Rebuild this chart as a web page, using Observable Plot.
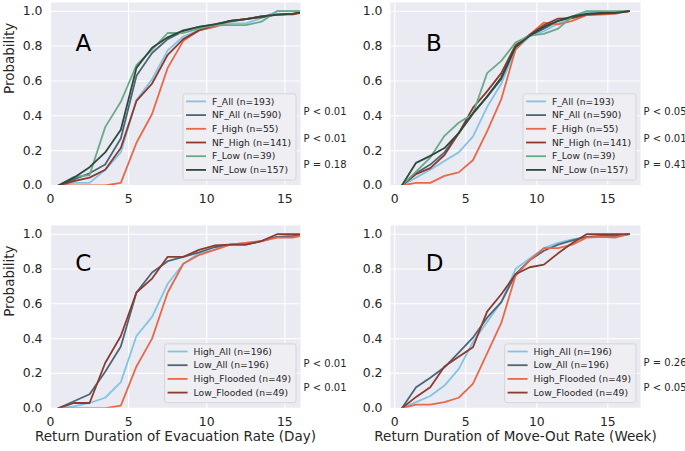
<!DOCTYPE html>
<html><head><meta charset="utf-8">
<script src="https://cdn.jsdelivr.net/npm/d3@7"></script>
<script src="https://cdn.jsdelivr.net/npm/@observablehq/plot@0.6"></script>
<style>
body{margin:0;background:#fff;}
#fig{position:relative;width:685px;height:451px;overflow:hidden;font-family:"DejaVu Sans",sans-serif;}
#fig svg{position:absolute;overflow:visible;max-width:none;}
</style></head><body><div id="fig"></div>
<script>
// ---- data ----
const xs = [0.5,1.5,2.5,3.5,4.5,5.5,6.5,7.5,8.5,9.5,10.5,11.5,12.5,13.5,14.5,15.5,16.5];
const xTicks = [0,5,10,15];
const yTicks = [0,0.2,0.4,0.6,0.8,1.0];

const labelsAB = ["F_All","NF_All","F_High","NF_High","F_Low","NF_Low"];
const nAB = [193,590,55,141,39,157];
const labelsCD = ["High_All","Low_All","High_Flooded","Low_Flooded"];
const nCD = [196,196,49,49];

// Panel A: evacuation rate (day)
const A_F_All   = [0,0.015,0.015,0.09,0.19,0.49,0.61,0.775,0.855,0.89,0.91,0.93,0.93,0.96,1.0,1.0,1.0];
const A_NF_All  = [0,0.035,0.07,0.12,0.27,0.63,0.76,0.84,0.885,0.91,0.925,0.94,0.955,0.97,0.98,0.985,1.0];
const A_F_High  = [0,0,0,0,0.015,0.245,0.41,0.675,0.83,0.89,0.91,0.945,0.955,0.97,0.98,0.98,1.0];
const A_NF_High = [0,0.025,0.045,0.09,0.215,0.485,0.585,0.75,0.84,0.89,0.92,0.945,0.955,0.965,0.98,0.985,1.0];
const A_F_Low   = [0,0.05,0.06,0.335,0.48,0.69,0.78,0.875,0.875,0.9,0.92,0.92,0.92,0.94,1.0,1.0,1.0];
const A_NF_Low  = [0,0.045,0.105,0.19,0.32,0.675,0.79,0.85,0.89,0.91,0.925,0.945,0.955,0.97,0.98,0.985,1.0];

// Panel B: move-out rate (week)
const B_F_All   = [0,0.045,0.09,0.14,0.19,0.28,0.45,0.585,0.78,0.855,0.885,0.93,0.96,0.99,0.99,0.99,1.0];
const B_NF_All  = [0,0.07,0.12,0.19,0.30,0.41,0.51,0.61,0.795,0.86,0.9,0.945,0.965,0.98,0.985,0.99,1.0];
const B_F_High  = [0,0.015,0.015,0.055,0.075,0.145,0.31,0.495,0.78,0.865,0.935,0.925,0.945,0.977,0.98,0.985,1.0];
const B_NF_High = [0,0.065,0.10,0.175,0.30,0.445,0.54,0.645,0.805,0.865,0.92,0.958,0.96,0.98,0.985,0.99,1.0];
const B_F_Low   = [0,0.08,0.16,0.285,0.36,0.41,0.645,0.715,0.82,0.86,0.87,0.9,0.97,1.0,1.0,1.0,1.0];
const B_NF_Low  = [0,0.13,0.17,0.215,0.30,0.415,0.51,0.62,0.795,0.86,0.91,0.945,0.97,0.985,0.99,0.99,1.0];

// Panel C: evacuation rate (day)
const C_High_All     = [0,0.01,0.03,0.06,0.15,0.415,0.525,0.715,0.83,0.89,0.91,0.94,0.95,0.96,0.985,0.985,1.0];
const C_Low_All      = [0,0.04,0.08,0.21,0.355,0.665,0.78,0.845,0.87,0.895,0.925,0.94,0.94,0.96,0.985,0.99,1.0];
const C_High_Flooded = [0,0,0,0,0.015,0.24,0.40,0.665,0.83,0.88,0.91,0.94,0.95,0.96,0.98,0.98,1.0];
const C_Low_Flooded  = [0,0.03,0.03,0.26,0.415,0.665,0.745,0.87,0.87,0.91,0.935,0.94,0.94,0.96,1.0,1.0,1.0];

// Panel D: move-out rate (week)
const D_High_All     = [0,0.035,0.07,0.13,0.225,0.38,0.495,0.61,0.80,0.86,0.92,0.95,0.97,0.985,0.985,0.985,1.0];
const D_Low_All      = [0,0.12,0.175,0.235,0.32,0.405,0.52,0.61,0.77,0.85,0.905,0.94,0.965,0.985,0.99,0.99,1.0];
const D_High_Flooded = [0,0.02,0.02,0.035,0.06,0.14,0.315,0.49,0.76,0.85,0.92,0.92,0.94,0.98,0.985,0.98,1.0];
const D_Low_Flooded  = [0,0.065,0.12,0.24,0.295,0.35,0.555,0.655,0.77,0.81,0.825,0.89,0.95,1.0,1.0,1.0,1.0];

const pTextA = ["P < 0.01","P < 0.01","P = 0.18"];
const pTextB = ["P < 0.05","P < 0.01","P = 0.41"];
const pTextC = ["P < 0.01","P < 0.01"];
const pTextD = ["P = 0.26","P < 0.05"];

const colorsAB = ["#82c5e2","#4d6675","#e8694a","#8b3b30","#6aaa88","#2c4a3c"];
const colorsCD = ["#82c5e2","#4d6675","#e8694a","#8b3b30"];

const TXT = "#262626";
const fig = document.getElementById("fig");

function panel(cfg) {
  const data = cfg.series.flatMap((vals, i) => vals.map((v, j) => ({x: xs[j], y: v, s: cfg.labels[i]})));
  const marks = [
    Plot.frame({fill: "#EAEAF2", stroke: null}),
    Plot.ruleX(xTicks, {stroke: "white", strokeWidth: 1.1}),
    Plot.ruleY(yTicks, {stroke: "white", strokeWidth: 1.1}),
    Plot.line(data, {x: "x", y: "y", z: "s", stroke: "s", strokeWidth: 1.8, clip: true}),
    Plot.text([cfg.letter], {x: cfg.letterX, y: cfg.letterY, fontSize: 23, fill: "black"}),
    Plot.text(cfg.pText, {y: cfg.pY, text: d => d, frameAnchor: "right", textAnchor: "start", dx: 3, fontSize: 10, fill: TXT})
  ];
  if (cfg.ylabel) marks.push(Plot.text([cfg.ylabel], {frameAnchor: "left", rotate: -90, dx: -41, fontSize: 13.5, fill: TXT}));
  if (cfg.xlabel) marks.push(Plot.text([cfg.xlabel], {frameAnchor: "bottom", dy: 33, fontSize: 13.5, fill: TXT}));
  const chart = Plot.plot({
    width: cfg.width, height: cfg.height,
    marginLeft: cfg.mL, marginRight: cfg.mR, marginTop: cfg.mT, marginBottom: cfg.mB,
    style: {fontFamily: "DejaVu Sans", fontSize: "12.4px", color: TXT, background: "transparent", overflow: "visible"},
    x: {domain: cfg.xDomain, ticks: xTicks, tickSize: 0, tickPadding: 9, tickFormat: d => String(d), label: null},
    y: {domain: [0, 1.05], ticks: yTicks, tickSize: 0, tickPadding: 8, tickFormat: d3.format(".1f"), label: null},
    color: {domain: cfg.labels, range: cfg.colors},
    marks
  });
  chart.style.left = cfg.left + "px";
  chart.style.top = cfg.top + "px";
  fig.appendChild(chart);

  // legend
  const right = cfg.width - cfg.mR - 4;
  const bottom = cfg.height - cfg.mB - 5;
  const rowH = 13.7, n = cfg.labels.length;
  const svg = d3.select(chart);
  const g = svg.append("g").attr("text-anchor", "start");
  const rect = g.append("rect").attr("fill", "#eeeef3").attr("stroke", "#cfcfcf").attr("stroke-width", 0.8).attr("rx", 2.5);
  const texts = cfg.labels.map((l, i) => g.append("text")
      .text(`${l} (n=${cfg.ns[i]})`)
      .attr("text-anchor", "start")
      .attr("font-family", "DejaVu Sans").attr("font-size", 9.2).attr("fill", TXT).attr("dy", "0.35em"));
  const maxW = d3.max(texts, t => t.node().getComputedTextLength());
  const w = 29 + maxW + 5, h = n * rowH + 4;
  const left = right - w, top = bottom - h;
  rect.attr("x", left).attr("y", top).attr("width", w).attr("height", h);
  cfg.labels.forEach((l, i) => {
    const cy = top + 7.6 + i * rowH;
    g.append("line").attr("x1", left + 3).attr("x2", left + 23).attr("y1", cy).attr("y2", cy)
      .attr("stroke", cfg.colors[i]).attr("stroke-width", 1.8);
    texts[i].attr("x", left + 29).attr("y", cy).raise();
  });
}

panel({series: [A_F_All, A_NF_All, A_F_High, A_NF_High, A_F_Low, A_NF_Low], labels: labelsAB, ns: nAB, colors: colorsAB,
  xDomain: [0, 16], letter: "A", letterX: 2.1, letterY: 0.815, pText: pTextA, pY: [0.425, 0.27, 0.12],
  left: 0, top: 0, width: 342, height: 215, mL: 50, mR: 42, mT: 2, mB: 30, ylabel: "Probability"});
panel({series: [B_F_All, B_NF_All, B_F_High, B_NF_High, B_F_Low, B_NF_Low], labels: labelsAB, ns: nAB, colors: colorsAB,
  xDomain: [-0.3, 17.3], letter: "B", letterX: 2.75, letterY: 0.815, pText: pTextB, pY: [0.425, 0.27, 0.12],
  left: 342, top: 0, width: 343, height: 215, mL: 48, mR: 45, mT: 2, mB: 30});
panel({series: [C_High_All, C_Low_All, C_High_Flooded, C_Low_Flooded], labels: labelsCD, ns: nCD, colors: colorsCD,
  xDomain: [0, 16], letter: "C", letterX: 2.1, letterY: 0.83, pText: pTextC, pY: [0.255, 0.118],
  left: 0, top: 215, width: 342, height: 236, mL: 50, mR: 42, mT: 10, mB: 43.3, ylabel: "Probability",
  xlabel: "Return Duration of Evacuation Rate (Day)"});
panel({series: [D_High_All, D_Low_All, D_High_Flooded, D_Low_Flooded], labels: labelsCD, ns: nCD, colors: colorsCD,
  xDomain: [-0.3, 17.3], letter: "D", letterX: 2.8, letterY: 0.83, pText: pTextD, pY: [0.26, 0.118],
  left: 342, top: 215, width: 343, height: 236, mL: 48, mR: 45, mT: 10, mB: 43.3,
  xlabel: "Return Duration of Move-Out Rate (Week)"});
</script></body></html>
